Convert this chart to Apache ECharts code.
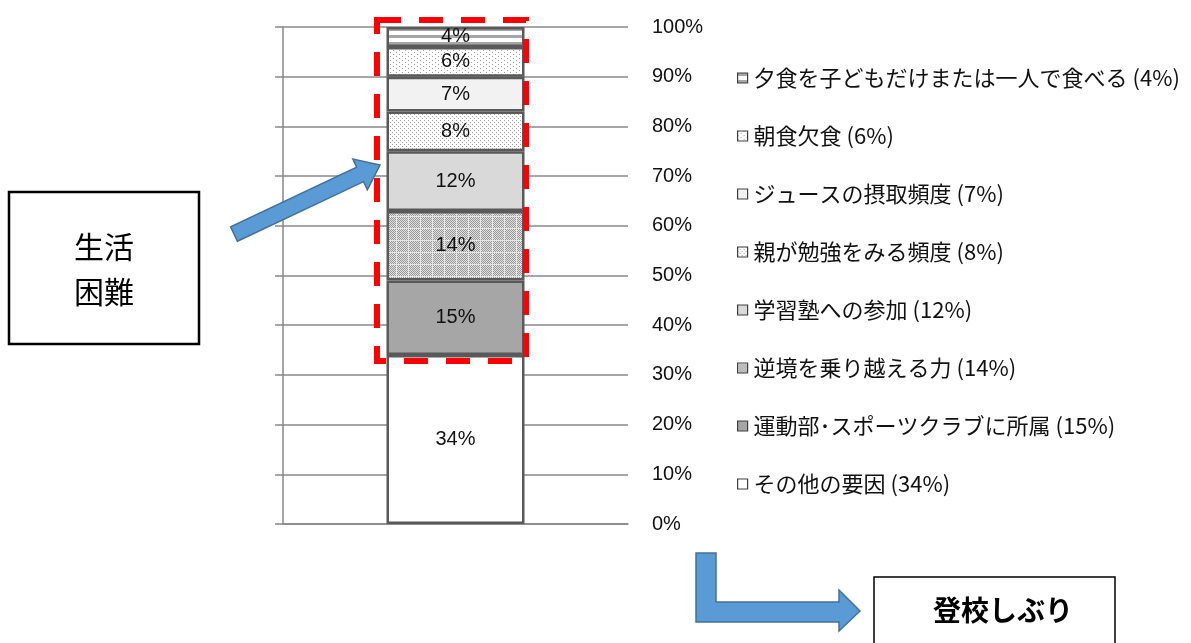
<!DOCTYPE html>
<html>
<head>
<meta charset="utf-8">
<script src="https://cdn.jsdelivr.net/npm/echarts@6/dist/echarts.min.js"></script>
<style>
  html, body { margin: 0; padding: 0; background: #fff; }
  #chart { width: 1191px; height: 643px; }
</style>
</head>
<body>
<div id="chart"></div>
<script>
// bottom of the stack first
const factorNames = [
  'その他の要因',
  '運動部･スポーツクラブに所属',
  '逆境を乗り越える力',
  '学習塾への参加',
  '親が勉強をみる頻度',
  'ジュースの摂取頻度',
  '朝食欠食',
  '夕食を子どもだけまたは一人で食べる'
]
const factorShares = [34, 15, 14, 12, 8, 7, 6, 4]
const categories = ['']
const yTicks = { min: 0, max: 100, interval: 10 }

// small canvas tiles used as fill patterns
function tile(w, h, draw) {
  const c = document.createElement('canvas')
  c.width = w
  c.height = h
  const ctx = c.getContext('2d')
  ctx.fillStyle = '#fff'
  ctx.fillRect(0, 0, w, h)
  draw(ctx)
  return { image: c, repeat: 'repeat' }
}

const fills = [
  '#ffffff',
  '#a6a6a6',
  tile(12, 12, ctx => {
    for (let y = 0; y < 12; y++) {
      for (let x = 0; x < 12; x++) {
        if (x === 0 || y === 0) ctx.fillStyle = '#e6e6e6'
        else ctx.fillStyle = (x + y) % 2 === 0 ? '#999' : '#e0e0e0'
        ctx.fillRect(x, y, 1, 1)
      }
    }
  }),
  '#d9d9d9',
  tile(4, 4, ctx => {
    ctx.fillStyle = '#a0a0a0'
    ctx.fillRect(0, 0, 1, 1)
    ctx.fillRect(2, 2, 1, 1)
    ctx.fillStyle = '#f4f4f4'
    ctx.fillRect(1, 1, 1, 1)
  }),
  '#f2f2f2',
  tile(6, 4, ctx => {
    ctx.fillStyle = '#a0a0a0'
    ctx.fillRect(0, 0, 1, 1)
    ctx.fillRect(3, 2, 1, 1)
  }),
  tile(1, 7, ctx => {
    ctx.fillStyle = '#a6a6a6'
    ctx.fillRect(0, 0, 1, 3)
  })
]

const font = '"Liberation Sans", "Noto Sans CJK JP", sans-serif'
const jpFont = '"Noto Sans CJK JP", sans-serif'

const chart = echarts.init(document.getElementById('chart'), null, { renderer: 'canvas' })

const seriesNames = factorNames.map((n, i) => n + ' (' + factorShares[i] + '%)')

// blue arrow pointing from the box to the bar
function arrowPoints(tail, tip, half, headHalf, headLen) {
  const dx = tip[0] - tail[0]
  const dy = tip[1] - tail[1]
  const len = Math.sqrt(dx * dx + dy * dy)
  const u = [dx / len, dy / len]
  const n = [-u[1], u[0]]
  const b = [tip[0] - u[0] * headLen, tip[1] - u[1] * headLen]
  const p = (o, k) => [o[0] + n[0] * k, o[1] + n[1] * k]
  return [p(tail, half), p(b, half), p(b, headHalf), tip, p(b, -headHalf), p(b, -half), p(tail, -half)]
}

chart.setOption({
  animation: false,
  grid: { left: 283, right: 563, top: 27, bottom: 119 },
  legend: {
    orient: 'vertical',
    left: 732,
    top: 62,
    itemGap: 36,
    itemWidth: 10,
    itemHeight: 10,
    icon: 'rect',
    selectedMode: false,
    data: seriesNames.slice().reverse(),
    itemStyle: { borderColor: '#404040', borderWidth: 1.2 },
    textStyle: {
      fontFamily: jpFont,
      fontSize: 22,
      lineHeight: 22,
      color: '#111',
      padding: [0, 0, 0, 1]
    }
  },
  xAxis: {
    type: 'category',
    data: categories,
    axisLine: { show: true, lineStyle: { color: '#888', width: 1.5 } },
    axisTick: { show: false },
    axisLabel: { show: false }
  },
  yAxis: [
    {
      type: 'value',
      position: 'left',
      ...yTicks,
      axisLine: { show: true, lineStyle: { color: '#888', width: 1.5 } },
      axisTick: { show: true, length: 8, lineStyle: { color: '#888', width: 1.5 } },
      axisLabel: { show: false },
      splitLine: { show: true, lineStyle: { color: '#888', width: 1.5 } }
    },
    {
      type: 'value',
      position: 'right',
      ...yTicks,
      axisLine: { show: false },
      axisTick: { show: false },
      splitLine: { show: false },
      axisLabel: {
        formatter: '{value}%',
        align: 'left',
        margin: 24,
        fontFamily: font,
        fontSize: 20,
        color: '#111'
      }
    }
  ],
  series: factorNames.map((n, i) => ({
    name: seriesNames[i],
    type: 'bar',
    stack: 'total',
    barWidth: 138,
    data: [factorShares[i]],
    itemStyle: { color: fills[i], borderColor: '#595959', borderWidth: 2.5 },
    label: {
      show: true,
      position: 'inside',
      formatter: '{c}%',
      fontFamily: font,
      fontSize: 20,
      color: '#111'
    }
  })),
  graphic: [
    {
      type: 'rect',
      shape: { x: 377, y: 20, width: 149, height: 341 },
      style: { fill: null, stroke: '#ff0000', lineWidth: 6, lineDash: [24, 18] },
      z: 100
    },
    {
      type: 'rect',
      shape: { x: 9, y: 192, width: 190, height: 152 },
      style: { fill: '#fff', stroke: '#000', lineWidth: 2.5 }
    },
    {
      type: 'text',
      x: 104,
      y: 269,
      style: {
        text: '生活\n困難',
        fontFamily: jpFont,
        fontSize: 30,
        lineHeight: 45,
        fill: '#000',
        align: 'center',
        verticalAlign: 'middle'
      }
    },
    {
      type: 'polygon',
      shape: { points: arrowPoints([234, 234], [380, 165], 8, 17, 22) },
      style: { fill: '#5b9bd5', stroke: '#41719c', lineWidth: 1.5 },
      z: 101
    },
    {
      type: 'polygon',
      shape: {
        points: [[696, 553], [716, 553], [716, 602], [839, 602], [839, 590], [860, 611], [839, 631], [839, 622], [696, 622]]
      },
      style: { fill: '#5b9bd5', stroke: '#41719c', lineWidth: 1.5 }
    },
    {
      type: 'rect',
      shape: { x: 874, y: 577, width: 241, height: 80 },
      style: { fill: '#fff', stroke: '#000', lineWidth: 1.5 }
    },
    {
      type: 'text',
      x: 1003,
      y: 610,
      style: {
        text: '登校しぶり',
        fontFamily: jpFont,
        fontSize: 28,
        fontWeight: 'bold',
        fill: '#000',
        align: 'center',
        verticalAlign: 'middle'
      }
    }
  ]
})
</script>
</body>
</html>
